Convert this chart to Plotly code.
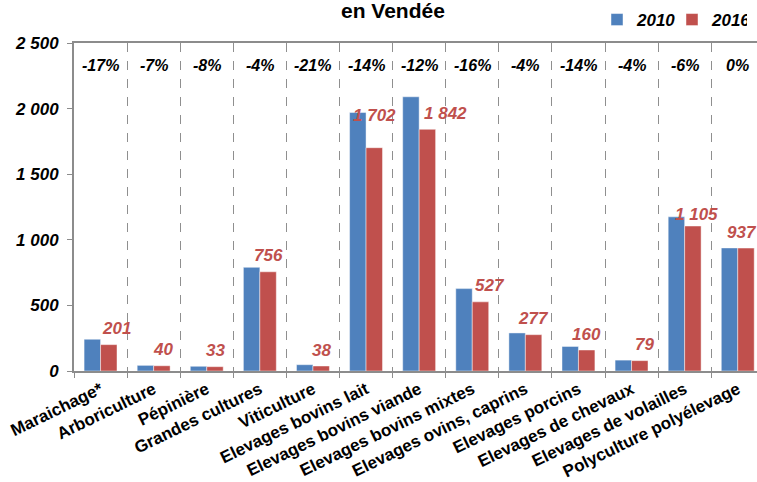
import plotly.graph_objects as go

categories = [
    "Maraichage*",
    "Arboriculture",
    "Pépinière",
    "Grandes cultures",
    "Viticulture",
    "Elevages bovins lait",
    "Elevages bovins viande",
    "Elevages bovins mixtes",
    "Elevages ovins, caprins",
    "Elevages porcins",
    "Elevages de chevaux",
    "Elevages de volailles",
    "Polyculture polyélevage",
]
values_2010 = [242, 43, 36, 790, 48, 1970, 2090, 628, 290, 187, 83, 1175, 938]
values_2016 = [201, 40, 33, 756, 38, 1702, 1842, 527, 277, 160, 79, 1105, 937]
pct_labels = ["-17%", "-7%", "-8%", "-4%", "-21%", "-14%", "-12%",
              "-16%", "-4%", "-14%", "-4%", "-6%", "0%"]

# label placement tweaks (px), as they sit on the original chart
label_xshift = [16, 9, 9, 9, 9, 8, 26, 18, 8, 8, 13, 12, 4]
label_yshift = [16, 16, 16, 16, 16, 32, 16, 16, 16, 16, 16, 12, 16]

BLUE = "#4F81BD"
RED = "#C0504D"
AXIS = "#8c8c8c"
FONT = "Liberation Sans, Arial, sans-serif"

W, H = 757, 482
L, T, B = 74, 43, 111
plot_w, plot_h = W - L, H - T - B

fig = go.Figure()
fig.add_trace(go.Bar(
    x=categories, y=values_2010, name="2010",
    marker=dict(color=BLUE, line=dict(color="rgba(255,255,255,0.45)", width=1)),
))
fig.add_trace(go.Bar(
    x=categories, y=values_2016, name="2016",
    marker=dict(color=RED, line=dict(color="rgba(255,255,255,0.45)", width=1)),
))

for cat, val, dx, dy in zip(categories, values_2016, label_xshift, label_yshift):
    fig.add_annotation(
        x=cat, y=val, xref="x", yref="y",
        text=f"{val:,}".replace(",", " "),
        showarrow=False, xshift=dx, yshift=dy, yanchor="middle",
        font=dict(family=FONT, size=17, color=RED, weight="bold", style="italic"),
    )

for cat, pct in zip(categories, pct_labels):
    fig.add_annotation(
        x=cat, y=0.93, xref="x", yref="paper",
        text=pct, showarrow=False, yanchor="middle",
        font=dict(family=FONT, size=16, color="black", weight="bold", style="italic"),
    )

# title, only its last line shows in the original crop
fig.add_annotation(
    x=(393 - L) / plot_w, xref="paper", xanchor="center",
    y=1 + (T - 24) / plot_h, yref="paper", yanchor="bottom",
    text="en Vendée", showarrow=False,
    font=dict(family=FONT, size=21, color="black", weight="bold"),
)

fig.update_layout(
    width=W,
    height=H,
    margin=dict(l=L, r=0, t=T, b=B, autoexpand=False),
    paper_bgcolor="white",
    plot_bgcolor="white",
    barmode="group",
    bargap=0.38,
    bargroupgap=0,
    separators=", ",
    font=dict(family=FONT, color="black"),
    legend=dict(
        orientation="h",
        x=597 / W, xanchor="left", xref="container",
        y=1 - 20 / H, yanchor="middle", yref="container",
        font=dict(family=FONT, size=17, weight="bold", style="italic"),
        itemwidth=30,
        entrywidth=30,
        bgcolor="rgba(0,0,0,0)",
    ),
    xaxis=dict(
        range=[-0.5, -0.5 + plot_w / 53.1],
        automargin=False,
        tickson="boundaries",
        ticks="outside", ticklen=5, tickcolor=AXIS,
        showgrid=True, griddash="dash", gridcolor="#8f8f8f", gridwidth=1,
        showline=True, linecolor=AXIS, linewidth=2, mirror=True,
        tickangle=-26,
        tickfont=dict(family=FONT, size=17, color="black", weight="bold"),
    ),
    yaxis=dict(
        range=[0, 2500],
        automargin=False,
        tickvals=[0, 500, 1000, 1500, 2000, 2500],
        tickformat=",d",
        ticks="outside", ticklen=5, tickcolor=AXIS,
        showgrid=False, zeroline=False,
        showline=True, linecolor=AXIS, linewidth=2,
        ticklabelstandoff=5,
        tickfont=dict(family=FONT, size=17, color="black", weight="bold", style="italic"),
    ),
)

fig.write_html(
    "out.html",
    config={"displayModeBar": False},
    post_script="document.body.style.margin = '0';",
)
